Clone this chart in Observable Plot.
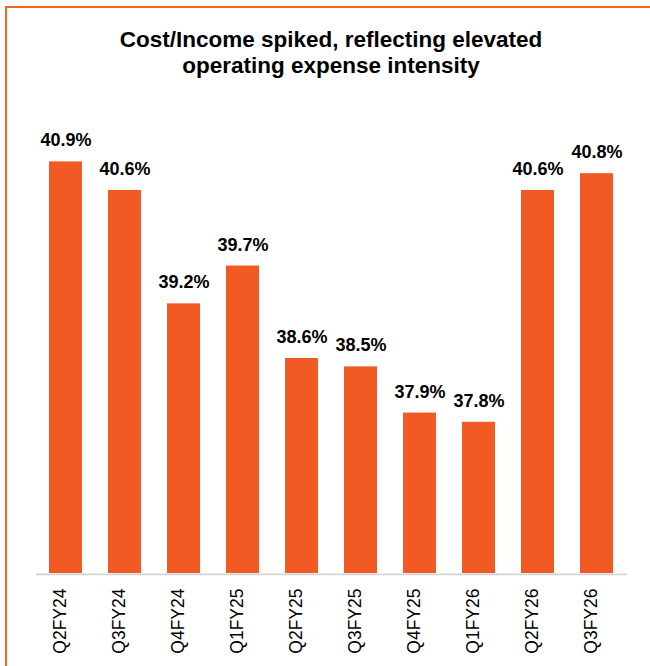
<!DOCTYPE html>
<html>
<head>
<meta charset="utf-8">
<script src="https://cdn.jsdelivr.net/npm/d3@7"></script>
<script src="https://cdn.jsdelivr.net/npm/@observablehq/plot@0.6"></script>
<style>
  body { margin: 0; background: #fff; font-family: "Liberation Sans", Arial, sans-serif; }
  #wrap { position: relative; width: 650px; height: 666px; overflow: hidden; background: #fff; }
  #frame { position: absolute; left: 5px; top: 6px; right: -10px; bottom: -10px;
           border-left: 2px solid #f26522; border-top: 2px solid #f26522; pointer-events: none; }
  #title { box-sizing: border-box; height: 100px; padding-top: 26.7px; padding-left: 12px;
           text-align: center; font-weight: bold; font-size: 22.5px; line-height: 26px; color: #000; }
  svg { display: block; }
</style>
</head>
<body>
<div id="wrap">
  <div id="title">Cost/Income spiked, reflecting elevated<br>operating expense intensity</div>
  <div id="chart"></div>
  <div id="frame"></div>
</div>
<script>
const quarters = ["Q2FY24","Q3FY24","Q4FY24","Q1FY25","Q2FY25","Q3FY25","Q4FY25","Q1FY26","Q2FY26","Q3FY26"];
const costIncome = [40.90, 40.56, 39.21, 39.66, 38.56, 38.46, 37.91, 37.80, 40.56, 40.76];
const yBase = 36;
const yTop = 41.5;

const data = quarters.map((q, i) => ({q, v: costIncome[i]}));
const fmt = d3.format(".1f");

const chart = Plot.plot({
  width: 650,
  height: 566,
  marginLeft: 36,
  marginRight: 23,
  marginTop: 11,
  marginBottom: 93,
  style: {fontFamily: "Liberation Sans, Arial, sans-serif", background: "transparent"},
  x: {domain: quarters, paddingInner: 0.44, paddingOuter: 0.22, axis: null},
  y: {domain: [yBase, yTop], axis: null},
  marks: [
    Plot.barY(data, {x: "q", y1: yBase, y2: "v", fill: "#f15a22"}),
    Plot.ruleY([yBase], {stroke: "#d3d3d3", strokeWidth: 1.75, dy: 0.75}),
    Plot.text(data, {x: "q", y: "v", text: d => fmt(d.v) + "%", lineAnchor: "bottom", dy: -15.5,
                     fontSize: 18, fontWeight: "bold", fill: "#000"}),
    Plot.text(data, {x: "q", text: "q", frameAnchor: "bottom", rotate: -90, textAnchor: "end",
                     dy: 15, fontSize: 17.5, fill: "#000"})
  ]
});
document.getElementById("chart").appendChild(chart);
</script>
</body>
</html>
